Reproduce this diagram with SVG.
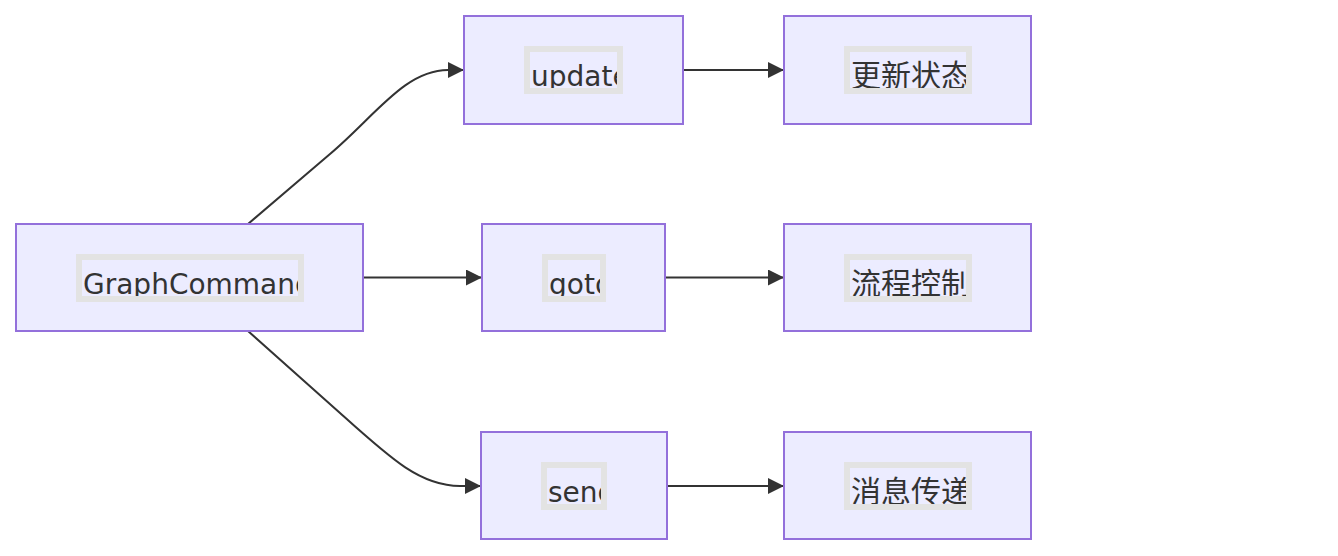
<svg xmlns="http://www.w3.org/2000/svg" width="1338" height="556" viewBox="0 0 1338 556">
<style>
.node rect.box{fill:#ECECFF;stroke:#9370DB;stroke-width:2}
.node rect.lbl{fill:none;stroke:#E3E3E3;stroke-width:6}
.node text{font-family:"DejaVu Sans","Noto Sans CJK SC",sans-serif;font-size:28px;fill:#333}
.node text.cjk{font-size:30px}
.edges path{fill:none;stroke:#333;stroke-width:2}
</style>
<defs>
<marker id="arrow" viewBox="0 0 10 10" markerUnits="userSpaceOnUse" markerWidth="16" markerHeight="16" refX="10" refY="5" orient="auto">
<path d="M0,0 L10,5 L0,10 z" fill="#333"/>
</marker>
<clipPath id="cA"><rect x="82" y="260" width="216" height="36"/></clipPath>
<clipPath id="cU"><rect x="530" y="52" width="87" height="36"/></clipPath>
<clipPath id="cU2"><rect x="850" y="52" width="116" height="36"/></clipPath>
<clipPath id="cG"><rect x="548" y="260" width="52" height="36"/></clipPath>
<clipPath id="cG2"><rect x="850" y="260" width="116" height="36"/></clipPath>
<clipPath id="cS"><rect x="547" y="468" width="54" height="36"/></clipPath>
<clipPath id="cS2"><rect x="850" y="468" width="116" height="36"/></clipPath>
</defs>
<g class="edges">
<path d="M248,224 L330,154 C375,116 405,70 448,70 L464,70" marker-end="url(#arrow)"/>
<path d="M363,277.5 L482,277.5" marker-end="url(#arrow)"/>
<path d="M248,331 L340,413 C390,458 420,486 460,486 L481,486" marker-end="url(#arrow)"/>
<path d="M683,70 L784,70" marker-end="url(#arrow)"/>
<path d="M665,277.5 L784,277.5" marker-end="url(#arrow)"/>
<path d="M667,486 L784,486" marker-end="url(#arrow)"/>
</g>
<g id="GraphCommand" class="node">
<rect class="box" x="16" y="224" width="347" height="107"/>
<rect class="lbl" x="79" y="257" width="222" height="42"/>
<text x="83" y="294" clip-path="url(#cA)">GraphCommand</text>
</g>
<g id="update" class="node">
<rect class="box" x="464" y="16" width="219" height="108"/>
<rect class="lbl" x="527" y="49" width="93" height="42"/>
<text x="531" y="86" clip-path="url(#cU)">update</text>
</g>
<g id="updateState" class="node">
<rect class="box" x="784" y="16" width="247" height="108"/>
<rect class="lbl" x="847" y="49" width="122" height="42"/>
<text class="cjk" x="851" y="86" clip-path="url(#cU2)">更新状态</text>
</g>
<g id="goto" class="node">
<rect class="box" x="482" y="224" width="183" height="107"/>
<rect class="lbl" x="545" y="257" width="58" height="42"/>
<text x="549" y="294" clip-path="url(#cG)">goto</text>
</g>
<g id="flowControl" class="node">
<rect class="box" x="784" y="224" width="247" height="107"/>
<rect class="lbl" x="847" y="257" width="122" height="42"/>
<text class="cjk" x="851" y="294" clip-path="url(#cG2)">流程控制</text>
</g>
<g id="send" class="node">
<rect class="box" x="481" y="432" width="186" height="107"/>
<rect class="lbl" x="544" y="465" width="60" height="42"/>
<text x="548" y="502" clip-path="url(#cS)">send</text>
</g>
<g id="messagePassing" class="node">
<rect class="box" x="784" y="432" width="247" height="107"/>
<rect class="lbl" x="847" y="465" width="122" height="42"/>
<text class="cjk" x="851" y="502" clip-path="url(#cS2)">消息传递</text>
</g>
</svg>
